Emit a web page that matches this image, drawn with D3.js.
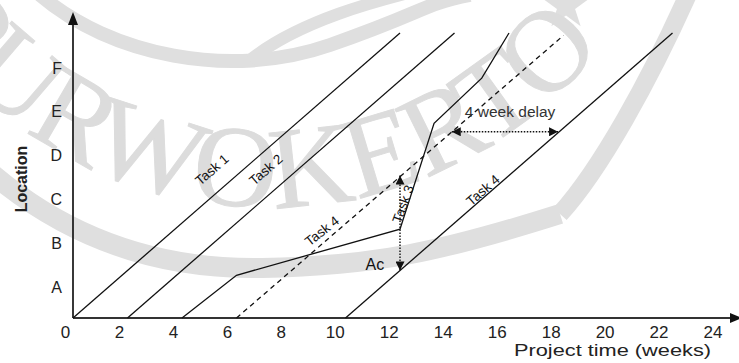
<!DOCTYPE html>
<html>
<head>
<meta charset="utf-8">
<script src="https://cdn.jsdelivr.net/npm/d3@7"></script>
<style>
  body { margin: 0; background: #fff; }
  svg { display: block; font-family: "Liberation Sans", Arial, sans-serif; }
</style>
</head>
<body>
<div id="chart"></div>
<script>
// axis categories
const weekTicks = [0, 2, 4, 6, 8, 10, 12, 14, 16, 18, 20, 22, 24];
const locations = ["A", "B", "C", "D", "E", "F"];

// lines as [week, location units]
const task1 = [[0, 0], [12, 6]];
const task2 = [[2, 0], [14, 6]];
const task3 = [[4, 0], [6, 0.9], [12, 1.87], [13.25, 4.1], [15, 5.05], [16, 6]];
const task4Planned = [[6, 0], [18, 5.95]];
const task4Actual = [[10, 0], [22, 6]];

// annotation arrows
const acArrow = [[12, 3], [12, 1]];
const delayArrow = [[13.9, 3.92], [17.8, 3.92]];

// text labels: week, location, angle
const labels = [
  {text: "Task 1", week: 5.1, loc: 3.12, angle: -41},
  {text: "Task 2", week: 7.08, loc: 3.12, angle: -41},
  {text: "Task 4", week: 9.14, loc: 1.83, angle: -38},
  {text: "Task 3", week: 12.12, loc: 2.4, angle: -70},
  {text: "Task 4", week: 15.05, loc: 2.69, angle: -41}
];
const noteAc = {text: "Ac", week: 11.08, loc: 1.12};
const noteDelay = {text: "4 week delay", week: 16.04, loc: 4.34};

const W = 739, H = 363;
const x0 = 73, y0 = 318;

const svg = d3.select("#chart").append("svg")
    .attr("width", W)
    .attr("height", H);

// --- faint watermark behind the chart ---
const wm = svg.append("g").attr("fill", "none").attr("stroke", "#dfdfdf");
wm.append("path")
    .attr("stroke-width", 20)
    .attr("d", "M -10,172 C 60,232 150,270 262,268 S 440,252 560,214");
wm.append("path")
    .attr("stroke-width", 18)
    .attr("d", "M 560,214 C 600,170 650,80 690,-10");
wm.append("path")
    .attr("stroke-width", 14)
    .attr("d", "M 40,-5 C 110,55 230,80 330,45 S 420,5 470,-5");
wm.append("path")
    .attr("stroke-width", 12)
    .attr("d", "M 250,60 C 300,20 380,0 420,-10");
svg.append("path")
    .attr("transform", "translate(566,6)")
    .attr("fill", "#dfdfdf")
    .attr("d", d3.symbol(d3.symbolStar, 700)());

const cx = 269, cy = -218, R = 425, mid = 91.7, half = 80;
const rad = a => a * Math.PI / 180;
svg.append("path")
    .attr("id", "wmArc")
    .attr("fill", "none")
    .attr("d", `M ${cx + R * Math.cos(rad(mid + half))},${cy + R * Math.sin(rad(mid + half))}
                A ${R} ${R} 0 0 0 ${cx + R * Math.cos(rad(mid - half))},${cy + R * Math.sin(rad(mid - half))}`);
svg.append("text")
    .attr("font-family", "'Liberation Serif', 'Times New Roman', serif")
    .attr("font-size", 116)
    .attr("fill", "#dcdcdc")
    .attr("stroke", "#dcdcdc")
    .attr("stroke-width", 1)
  .append("textPath")
    .attr("href", "#wmArc")
    .attr("startOffset", "50%")
    .attr("text-anchor", "middle")
    .text("PURWOKERTO");

// --- scales ---
const x = d3.scaleLinear().domain([0, 24]).range([x0, 727]);
const y = d3.scaleLinear().domain([0, 6]).range([y0, 33]);
// tick labels sit slightly left of the line grid in the original
const xLab = d3.scaleLinear().domain([0, 24]).range([65, 712.5]);
const yLab = d3.scalePoint().domain(locations).range([287, 68]);

// markers
const defs = svg.append("defs");
defs.append("marker")
    .attr("id", "head")
    .attr("viewBox", "0 0 10 10")
    .attr("refX", 10).attr("refY", 5)
    .attr("markerWidth", 10).attr("markerHeight", 9)
    .attr("markerUnits", "userSpaceOnUse")
    .attr("orient", "auto-start-reverse")
  .append("path")
    .attr("d", "M0,0 L10,5 L0,10 z")
    .attr("fill", "#111");

// axes lines with arrows
svg.append("line")
    .attr("x1", x0).attr("y1", y0).attr("x2", x0).attr("y2", 22)
    .attr("stroke", "#222").attr("stroke-width", 1.8);
svg.append("path")
    .attr("d", `M${x0},12 L${x0 - 5},25 L${x0 + 5},25 z`)
    .attr("fill", "#111");
svg.append("line")
    .attr("x1", x0).attr("y1", y0).attr("x2", 732).attr("y2", y0)
    .attr("stroke", "#333").attr("stroke-width", 2);
svg.append("path")
    .attr("d", `M742,${y0} L730,${y0 - 5} L730,${y0 + 5} z`)
    .attr("fill", "#111");

const xAxis = svg.append("g")
    .attr("transform", `translate(0,${y0})`)
    .call(d3.axisBottom(xLab).tickValues(weekTicks).tickSize(0).tickPadding(8).tickFormat(d3.format("d")));
xAxis.select(".domain").remove();
xAxis.selectAll("text")
    .attr("font-size", 17)
    .attr("font-family", "'Liberation Sans', Arial, sans-serif")
    .attr("fill", "#222");

const yAxis = svg.append("g")
    .attr("transform", "translate(62,0)")
    .call(d3.axisLeft(yLab).tickSize(0).tickPadding(0));
yAxis.select(".domain").remove();
yAxis.selectAll("text")
    .attr("font-size", 16)
    .attr("font-family", "'Liberation Sans', Arial, sans-serif")
    .attr("fill", "#222");

svg.append("text")
    .attr("transform", "translate(27,179) rotate(-90)")
    .attr("text-anchor", "middle")
    .attr("font-size", 16)
    .attr("font-weight", "bold")
    .attr("fill", "#222")
    .text("Location");

svg.append("text")
    .attr("x", 514)
    .attr("y", 356)
    .attr("font-size", 17)
    .attr("textLength", 197)
    .attr("lengthAdjust", "spacingAndGlyphs")
    .attr("fill", "#222")
    .text("Project time (weeks)");

// --- task lines ---
const line = d3.line().x(d => x(d[0])).y(d => y(d[1]));

[task1, task2, task3, task4Actual].forEach(t => {
  svg.append("path")
      .datum(t)
      .attr("fill", "none")
      .attr("stroke", "#111")
      .attr("stroke-width", 1.3)
      .attr("d", line);
});

svg.append("path")
    .datum(task4Planned)
    .attr("fill", "none")
    .attr("stroke", "#111")
    .attr("stroke-width", 1.3)
    .attr("stroke-dasharray", "5,4")
    .attr("d", line);

// dotted arrows
[acArrow, delayArrow].forEach(a => {
  svg.append("path")
      .datum(a)
      .attr("fill", "none")
      .attr("stroke", "#111")
      .attr("stroke-width", 1.4)
      .attr("stroke-dasharray", "1.5,1.5")
      .attr("marker-start", "url(#head)")
      .attr("marker-end", "url(#head)")
      .attr("d", line);
});

// labels
svg.selectAll(".tasklabel")
  .data(labels)
  .enter().append("text")
    .attr("class", "tasklabel")
    .attr("transform", d => `translate(${x(d.week)},${y(d.loc)}) rotate(${d.angle})`)
    .attr("text-anchor", "middle")
    .attr("dominant-baseline", "central")
    .attr("font-size", 13.5)
    .attr("fill", "#111")
    .text(d => d.text);

svg.append("text")
    .attr("x", x(noteAc.week))
    .attr("y", y(noteAc.loc))
    .attr("text-anchor", "middle")
    .attr("dominant-baseline", "central")
    .attr("font-size", 16)
    .attr("fill", "#111")
    .text(noteAc.text);

svg.append("text")
    .attr("x", x(noteDelay.week))
    .attr("y", y(noteDelay.loc))
    .attr("text-anchor", "middle")
    .attr("dominant-baseline", "central")
    .attr("font-size", 15.5)
    .attr("fill", "#333")
    .text(noteDelay.text);
</script>
</body>
</html>
